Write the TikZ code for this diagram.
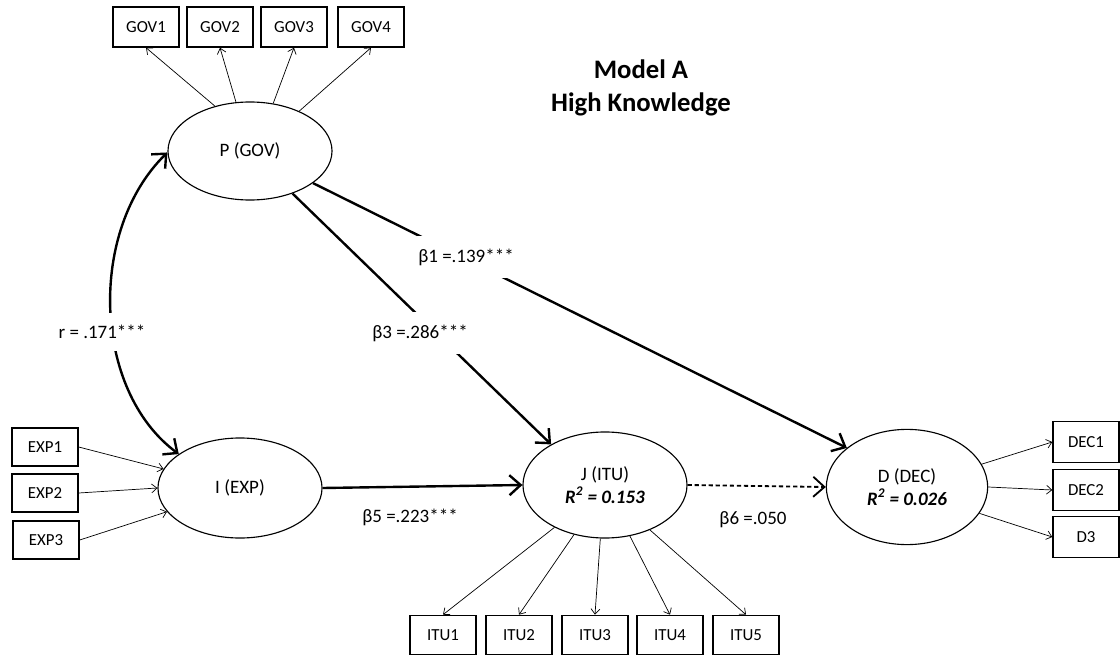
\documentclass[tikz,border=0pt]{standalone}
\usepackage{fontspec}
\setmainfont{Carlito}
\usetikzlibrary{arrows.meta,shapes.geometric}

\begin{document}
\begin{tikzpicture}[x=0.025cm,y=-0.025cm,
  latent/.style={ellipse,draw,line width=0.8pt,inner sep=0pt,minimum width=4.1cm,
    align=center,font=\fontsize{13.5}{16}\selectfont},
  ind/.style={rectangle,draw,line width=1pt,minimum width=1.65cm,minimum height=0.98cm,
    inner sep=0pt,font=\fontsize{12}{14}\selectfont},
  load/.style={line width=0.5pt,-{Straight Barb[length=1.3mm,width=2.2mm]}},
  regpath/.style={line width=1.7pt,-{Straight Barb[length=2.8mm,width=5mm]}},
  corpath/.style={line width=1.7pt,{Straight Barb[length=2.8mm,width=5mm]}-{Straight Barb[length=2.8mm,width=5mm]}},
  coef/.style={font=\fontsize{13.5}{16}\selectfont,inner sep=1pt},
  coefgap/.style={coef,fill=white,inner ysep=9pt},
]
\useasboundingbox (0,0) rectangle (1120,657);

% title
\node[align=center,font=\bfseries\fontsize{19}{23.5}\selectfont] (title) at (641,88)
  {Model A\\High Knowledge};

% latent constructs
\node[latent,minimum height=2.45cm] (P) at (250,151) {P (GOV)};
\node[latent,minimum height=2.5cm] (I) at (240,488) {I (EXP)};
\node[latent,minimum height=2.65cm] (J) at (605,485) {J (ITU)\\{\bfseries\itshape R\textsuperscript{2} = 0.153}};
\node[latent,minimum height=2.88cm,minimum width=4.03cm] (D) at (907,487) {D (DEC)\\{\bfseries\itshape R\textsuperscript{2} = 0.026}};

% indicators
\node[ind,minimum height=1cm] (gov1) at (146,27) {GOV1};
\node[ind,minimum height=1cm] (gov2) at (220,27) {GOV2};
\node[ind,minimum height=1cm] (gov3) at (294,27) {GOV3};
\node[ind,minimum height=1cm] (gov4) at (371,27) {GOV4};

\node[ind,minimum height=0.94cm] (exp1) at (45,447) {EXP1};
\node[ind,minimum height=0.94cm] (exp2) at (45,493) {EXP2};
\node[ind,minimum height=0.94cm] (exp3) at (46,540) {EXP3};

\node[ind] (itu1) at (443,635) {ITU1};
\node[ind] (itu2) at (519,635) {ITU2};
\node[ind] (itu3) at (595,635) {ITU3};
\node[ind] (itu4) at (670,635) {ITU4};
\node[ind] (itu5) at (746,635) {ITU5};

\node[ind,minimum height=1.02cm] (dec1) at (1086,442) {DEC1};
\node[ind,minimum height=1.02cm] (dec2) at (1086,490) {DEC2};
\node[ind,minimum height=1.02cm] (dec3) at (1086,537) {D3};

% loadings
\draw[load] (P.128) -- (gov1.south);
\draw[load] (P.106) -- (gov2.south);
\draw[load] (P.64) -- (gov3.south);
\draw[load] (P.39) -- (gov4.south);

\draw[load] (exp1.east) -- (I.166);
\draw[load] (exp2.east) -- (I.180);
\draw[load] (exp3.east) -- (I.198);

\draw[load] (J.220) -- (itu1.north);
\draw[load] (J.238) -- (itu2.north);
\draw[load] (J.265) -- (itu3.north);
\draw[load] (J.296) -- (itu4.north);
\draw[load] (J.315) -- (itu5.north);

\draw[load] (D.17) -- (dec1.west);
\draw[load] (D.0) -- (dec2.west);
\draw[load] (D.340) -- (dec3.west);

% structural paths
\draw[corpath] (I.151) .. controls (92,390) and (88,230) .. (P.181);
\draw[regpath] (P.333) -- (D.147);
\draw[regpath] (P.315) -- (J.143);
\draw[regpath] (I.east) -- (J.west);
\draw[regpath,line width=1.3pt,dash pattern=on 3pt off 2pt] (J.east) -- (D.west);

% coefficients
\node[coefgap] (r) at (102,332) {r = .171***};
\node[coefgap] (b1) at (466,257) {β1 =.139***};
\node[coefgap] (b3) at (420,333) {β3 =.286***};
\node[coef] (b5) at (410,517) {β5 =.223***};
\node[coef] (b6) at (753,520) {β6 =.050};
\end{tikzpicture}
\end{document}
